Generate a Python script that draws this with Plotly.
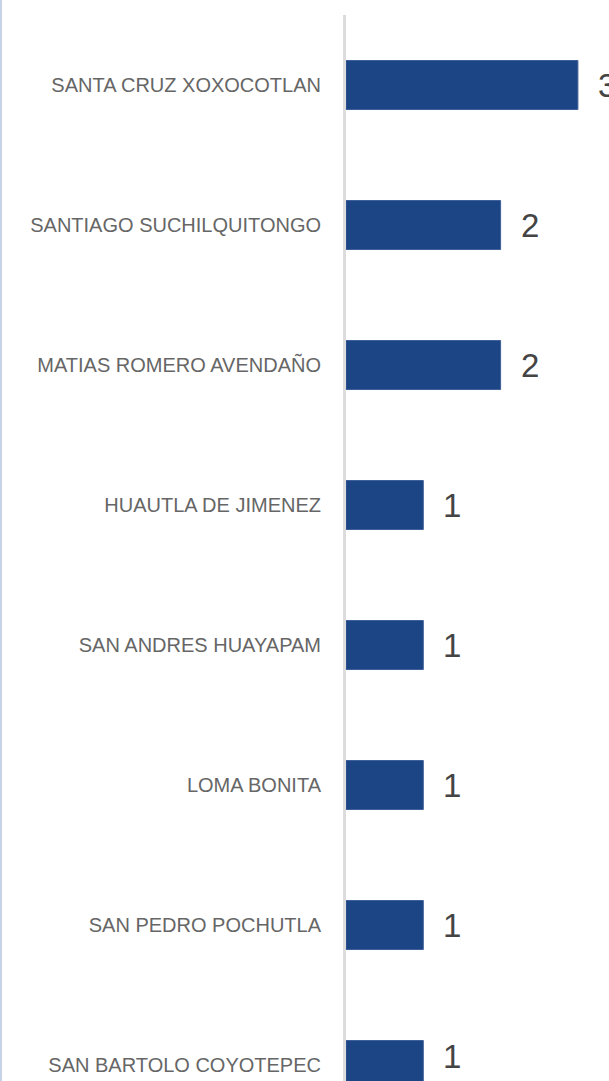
import plotly.graph_objects as go

# municipios y numero de registros
municipios = [
    "SANTA CRUZ XOXOCOTLAN",
    "SANTIAGO SUCHILQUITONGO",
    "MATIAS ROMERO AVENDAÑO",
    "HUAUTLA DE JIMENEZ",
    "SAN ANDRES HUAYAPAM",
    "LOMA BONITA",
    "SAN PEDRO POCHUTLA",
    "SAN BARTOLO COYOTEPEC",
]
valores = [3, 2, 2, 1, 1, 1, 1, 1]

W, H = 609, 1081
left, top = 346, 15
slot = 140          # px per category
unit = 77.3         # px per unit on x

bar_color = "#1c4585"

fig = go.Figure(go.Bar(
    x=valores,
    y=municipios,
    orientation="h",
    width=0.35,
    marker=dict(color=bar_color, line=dict(color="#3f5f98", width=1)),
    hoverinfo="x+y",
))

# value labels to the right of each bar (last one nudged up so it stays on the page)
for i, (m, v) in enumerate(zip(municipios, valores)):
    fig.add_annotation(
        x=v, y=m, text=str(v), showarrow=False,
        xanchor="left", yanchor="middle", xshift=18,
        yshift=9 if i == len(valores) - 1 else 0,
        font=dict(family="Arial, Liberation Sans, sans-serif", size=33, color="#444444"),
    )

# thin light-blue edge at the left of the page
fig.add_shape(
    type="line", xref="paper", yref="paper",
    x0=-(left - 1) / (W - left), x1=-(left - 1) / (W - left), y0=0, y1=1.02,
    line=dict(color="#c6d3e6", width=2),
)

fig.update_layout(
    width=W, height=H,
    margin=dict(l=left, r=0, t=top, b=0, autoexpand=False),
    paper_bgcolor="white",
    plot_bgcolor="white",
    showlegend=False,
    xaxis=dict(
        range=[0, (W - left) / unit],
        visible=False,
        fixedrange=True,
        automargin=False,
    ),
    yaxis=dict(
        type="category",
        range=[-0.5 + (H - top) / slot, -0.5],
        showline=True,
        linecolor="#dcdcdc",
        linewidth=3,
        showgrid=False,
        ticks="outside",
        ticklen=18,
        tickcolor="rgba(0,0,0,0)",
        tickfont=dict(family="Liberation Sans, Arial, sans-serif", size=20, color="#666666"),
        fixedrange=True,
        automargin=False,
    ),
)

# drop the browser's default page margin so the chart sits at the corner
fig.write_html(
    "out.html",
    config={"displayModeBar": False},
    post_script="document.body.style.margin='0px';",
)
